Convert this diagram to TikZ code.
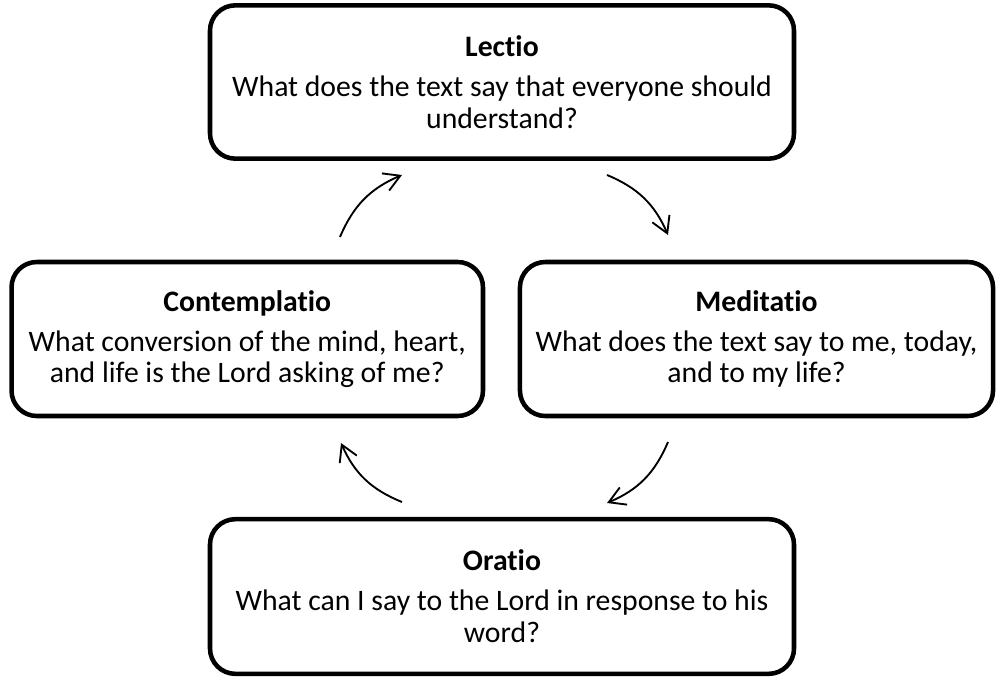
\documentclass[tikz,border=0pt]{standalone}
\usepackage{fontspec}
\setmainfont{Carlito}[Ligatures=CommonOff]
\usetikzlibrary{arrows.meta}

\tikzset{
  stage/.style={draw, line width=3.4pt, rounded corners=19pt, align=center,
    inner sep=0pt, font=\fontsize{22.3}{23.8}\selectfont},
  cyc/.style={-{Straight Barb[length=12pt,width=14pt]}, line width=1.4pt, bend left=22}
}

\begin{document}
\begin{tikzpicture}[x=0.75pt, y=-0.75pt]
        \useasboundingbox (0,0) rectangle (997,676);

        % Four stages of the reading
        \node[stage, minimum width=438pt, minimum height=115pt] (lectio) at (502,82)
          {\textbf{Lectio}\\[6.2pt] What does the text say that everyone should\\ understand?};
        \node[stage, minimum width=353.6pt, minimum height=115.5pt] (contemplatio) at (247.25,339)
          {\textbf{Contemplatio}\\[6.2pt] What conversion of the mind, heart,\\ and life is the Lord asking of me?};
        \node[stage, minimum width=354.8pt, minimum height=115.5pt] (meditatio) at (756.5,339)
          {\textbf{Meditatio}\\[6.2pt] What does the text say to me, today,\\ and to my life?};
        \node[stage, minimum width=438pt, minimum height=116pt] (oratio) at (502,596.5)
          {\textbf{Oratio}\\[6.2pt] What can I say to the Lord in response to his\\ word?};

        % Ends of the arrows between the stages
        \coordinate (cl) at (340,237);
        \coordinate (lc) at (402,175);
        \coordinate (lm) at (607,175);
        \coordinate (ml) at (668,235);
        \coordinate (mo) at (668,442);
        \coordinate (om) at (607,503);
        \coordinate (oc) at (402,502);
        \coordinate (co) at (341,443);

        % Arrows round the cycle
        \draw[cyc] (cl) to (lc);
        \draw[cyc] (lm) to (ml);
        \draw[cyc] (mo) to (om);
        \draw[cyc] (oc) to (co);

\end{tikzpicture}
\end{document}
